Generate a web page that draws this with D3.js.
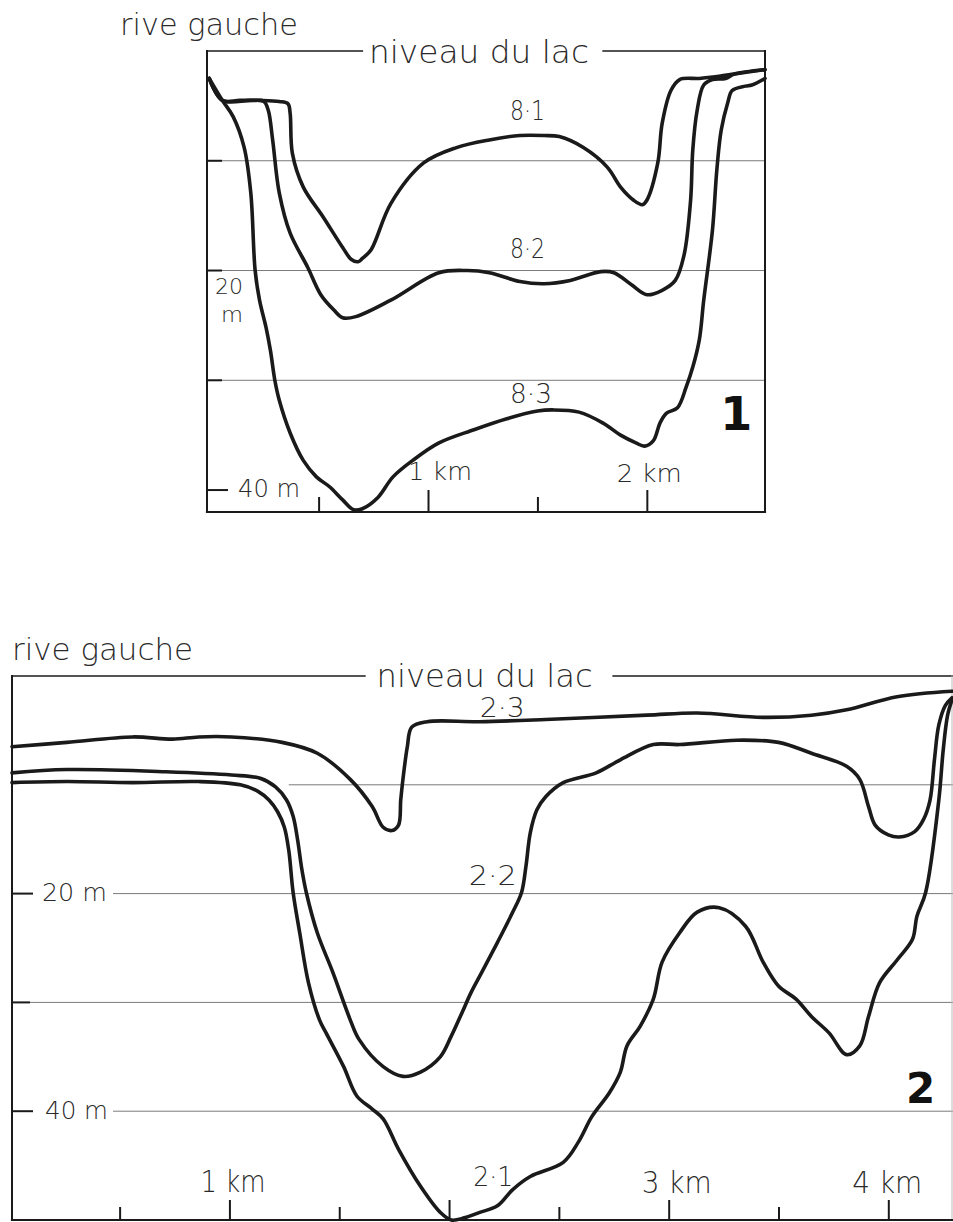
<!DOCTYPE html>
<html><head><meta charset="utf-8">
<script src="https://cdn.jsdelivr.net/npm/d3@7"></script>
<style>
body{margin:0;background:#fff}
svg{display:block}
text{font-family:"DejaVu Sans","Noto Sans",sans-serif;fill:#2a2a2a;font-weight:300}
</style>
</head><body>
<svg id="c" width="953" height="1222"></svg>
<script>
// ---------- DATA (distance km, depth m) ----------
// Profile 1 (panel "1")
const p1HalfTicks = [0.5, 1.5];
const p1KmTicks = [1, 2];
const p1Grid = [10, 20, 30];
const p1LeftTicks = [10, 20, 30, 40];
const profile81 = [[0,2.5],[0.06,4.5],[0.14,4.5],[0.24,4.5],[0.32,4.6],[0.36,4.8],[0.37,5.7],[0.38,9.3],[0.43,12.4],[0.52,15.1],[0.61,17.9],[0.65,19.0],[0.68,19.2],[0.70,18.9],[0.74,18.1],[0.83,13.9],[0.98,10.2],[1.13,8.8],[1.28,8.1],[1.42,7.7],[1.53,7.7],[1.60,7.8],[1.71,8.8],[1.82,10.6],[1.88,12.4],[1.94,13.6],[1.98,14.0],[2.00,13.6],[2.05,10.2],[2.07,6.6],[2.11,3.6],[2.15,2.6],[2.24,2.5],[2.33,2.3],[2.40,2.1],[2.54,1.7]];
const profile82 = [[0,2.5],[0.06,4.5],[0.19,4.5],[0.25,4.6],[0.27,5.4],[0.29,8.1],[0.32,12.9],[0.37,16.6],[0.45,19.7],[0.51,22.2],[0.57,23.6],[0.61,24.3],[0.67,24.2],[0.83,22.7],[1.05,20.2],[1.18,20.0],[1.28,20.2],[1.42,21.0],[1.53,21.2],[1.65,20.9],[1.79,20.1],[1.85,20.2],[1.93,21.3],[2.00,22.2],[2.07,21.8],[2.13,20.9],[2.17,18.6],[2.20,13.6],[2.21,9.0],[2.23,5.4],[2.26,3.1],[2.30,2.6],[2.36,2.5],[2.40,2.1],[2.54,1.7]];
const profile83 = [[0,2.5],[0.06,4.5],[0.11,6.0],[0.16,8.8],[0.19,12.9],[0.21,20.0],[0.23,22.7],[0.26,25.2],[0.28,27.3],[0.30,30.0],[0.32,31.8],[0.37,34.8],[0.43,37.3],[0.49,38.8],[0.55,39.7],[0.61,40.9],[0.66,41.8],[0.70,41.7],[0.77,40.7],[0.84,38.8],[0.93,37.3],[1.05,35.7],[1.21,34.5],[1.36,33.5],[1.50,32.8],[1.57,32.7],[1.69,32.9],[1.80,33.9],[1.88,35.0],[1.95,35.7],[1.99,36.0],[2.03,35.5],[2.06,33.9],[2.09,33.0],[2.14,32.5],[2.18,30.6],[2.21,28.8],[2.24,26.3],[2.26,22.7],[2.30,16.3],[2.32,10.8],[2.34,7.2],[2.37,4.7],[2.39,3.6],[2.45,3.2],[2.48,3.1],[2.54,2.5]];

// Profile 2 (panel "2")
const p2HalfTicks = [0.5, 1.5, 2.5, 3.5];
const p2KmTicks = [1, 2, 3, 4];
const p2LeftTicks = [20, 30, 40];
const profile23 = [[0.01,6.5],[0.26,6.1],[0.56,5.6],[0.74,5.8],[0.86,5.6],[1.01,5.6],[1.24,6.1],[1.40,7.1],[1.55,9.5],[1.65,12.0],[1.70,13.9],[1.74,14.2],[1.77,13.7],[1.78,11.4],[1.79,9.5],[1.81,6.5],[1.83,4.7],[1.90,4.2],[2.14,4.2],[2.44,4.0],[2.90,3.6],[3.13,3.4],[3.43,3.8],[3.65,3.6],[3.81,3.1],[4.04,1.9],[4.29,1.4]];
const profile22 = [[0.01,8.9],[0.26,8.6],[0.71,8.8],[1.01,9.1],[1.14,9.4],[1.21,10.2],[1.26,11.4],[1.29,12.9],[1.31,15.0],[1.33,17.8],[1.35,19.9],[1.40,23.6],[1.47,27.2],[1.55,31.6],[1.59,33.4],[1.70,35.9],[1.79,36.8],[1.87,36.4],[1.96,35.0],[2.01,33.1],[2.06,30.9],[2.10,29.1],[2.15,27.2],[2.22,24.5],[2.29,21.7],[2.33,19.9],[2.35,17.5],[2.37,14.4],[2.40,12.3],[2.44,11.1],[2.52,9.8],[2.67,8.9],[2.78,7.7],[2.93,6.3],[3.05,6.3],[3.31,5.9],[3.50,6.1],[3.65,7.1],[3.81,8.3],[3.87,9.5],[3.91,12.0],[3.94,13.7],[4.00,14.6],[4.05,14.8],[4.12,14.3],[4.16,13.2],[4.19,11.4],[4.21,7.7],[4.23,4.5],[4.26,2.7],[4.29,2.0]];
const profile21 = [[0.01,9.8],[0.26,9.7],[0.56,9.8],[0.86,9.7],[1.05,10.0],[1.13,10.6],[1.18,11.4],[1.22,12.5],[1.25,13.9],[1.27,16.0],[1.29,19.9],[1.32,23.6],[1.36,28.2],[1.41,31.6],[1.44,32.8],[1.52,35.9],[1.58,38.6],[1.65,39.8],[1.70,40.7],[1.77,43.5],[1.87,46.9],[1.96,49.3],[2.01,50.0],[2.07,49.8],[2.14,49.3],[2.22,48.7],[2.29,47.2],[2.37,46.0],[2.52,44.7],[2.59,42.8],[2.65,40.5],[2.73,38.3],[2.78,36.4],[2.81,34.0],[2.87,32.2],[2.93,29.7],[2.97,26.3],[3.05,23.6],[3.13,21.7],[3.23,21.3],[3.35,23.0],[3.43,26.3],[3.50,28.5],[3.58,29.7],[3.65,31.3],[3.73,32.8],[3.81,34.8],[3.87,34.0],[3.91,31.3],[3.96,28.2],[4.04,26.1],[4.11,24.2],[4.13,22.1],[4.17,19.9],[4.23,11.4],[4.25,6.8],[4.27,3.6],[4.29,2.2]];

// ---------- DRAW ----------
const svg = d3.select("#c");
const INK = "#1a1a1a";
const GRID = "#7a7a7a";

function txt(g, s, x, y, size, len, opts = {}) {
  const t = g.append("text").attr("x", x).attr("y", y).attr("font-size", size).text(s);
  if (len) t.attr("textLength", len).attr("lengthAdjust", "spacingAndGlyphs");
  if (opts.anchor) t.attr("text-anchor", opts.anchor);
  if (opts.bold) t.style("font-weight", "bold").style("fill", "#111");
  return t;
}
function seg(g, x1, y1, x2, y2, w, c) {
  g.append("line").attr("x1", x1).attr("y1", y1).attr("x2", x2).attr("y2", y2)
    .attr("stroke", c || INK).attr("stroke-width", w || 2).attr("stroke-linecap", "square");
}
function curves(g, x, y, list) {
  const line = d3.line().x(d => x(d[0])).y(d => y(d[1])).curve(d3.curveCatmullRom.alpha(0.5));
  g.selectAll("path.prof").data(list).join("path").attr("class", "prof")
    .attr("d", d => line(d)).attr("fill", "none").attr("stroke", INK)
    .attr("stroke-width", 3.6).attr("stroke-linejoin", "round").attr("stroke-linecap", "round");
}

// ===== Panel 1 =====
{
  const g = svg.append("g");
  const x = d3.scaleLinear().domain([-0.01, 2.54]).range([207, 765]);
  const y = d3.scaleLinear().domain([0, 42]).range([51, 512]);
  const [x0, xr] = x.domain().map(x); const [y0, yb] = y.domain().map(y);

  g.selectAll("line.grid").data(p1Grid).join("line").attr("class", "grid")
    .attr("x1", x0).attr("x2", xr).attr("y1", d => y(d)).attr("y2", d => y(d))
    .attr("stroke", GRID).attr("stroke-width", 1);
  g.selectAll("line.lt").data(p1LeftTicks).join("line").attr("class", "lt")
    .attr("x1", x0).attr("x2", d => x0 + (d === 40 ? 21 : 15)).attr("y1", d => y(d)).attr("y2", d => y(d))
    .attr("stroke", INK).attr("stroke-width", 2);
  const axHalf = d3.axisBottom(x).tickValues(p1HalfTicks).tickSize(-15).tickFormat("");
  const axKm = d3.axisBottom(x).tickValues(p1KmTicks).tickSize(-22).tickFormat("");
  [axHalf, axKm].forEach(ax => {
    const a = g.append("g").attr("transform", `translate(0,${yb})`).call(ax);
    a.select(".domain").remove();
    a.selectAll("line").attr("stroke", INK).attr("stroke-width", 2);
  });
  seg(g, x0, y0, x(0.7), y0, 1.5);
  seg(g, x(1.8), y0, xr, y0, 1.5);
  seg(g, x0, y0, x0, yb, 2);
  seg(g, xr, y0, xr, yb, 2);
  seg(g, x0, yb, xr, yb, 2.2);

  curves(g, x, y, [profile81, profile82, profile83]);

  txt(g, "rive gauche", 120, 35, 31, 178);
  txt(g, "niveau du lac", x(0.73), 63, 32, 220);
  txt(g, "8·1", x(1.375), y(6.3), 26, 35);
  txt(g, "8·2", x(1.375), y(18.9), 26, 35);
  txt(g, "8·3", x(1.375), y(32.1), 26, 42);
  txt(g, "20", x0 + 22, y(22.1), 22, 28, {anchor: "middle"});
  txt(g, "m", x0 + 25, y(24.7), 22, 22, {anchor: "middle"});
  txt(g, "40 m", x0 + 31, y(40.6), 24, 62);
  txt(g, "1 km", x(1) - 20, y(39.1), 25, 64);
  txt(g, "2 km", x(2) - 30, y(39.3), 25, 65);
  txt(g, "1", x(2.335), y(34.5), 46, null, {bold: true});
}

// ===== Panel 2 =====
{
  const g = svg.append("g");
  const x = d3.scaleLinear().domain([0.01, 4.29]).range([12, 952]);
  const y = d3.scaleLinear().domain([0, 50]).range([676, 1220]);
  const [x0, xr] = x.domain().map(x); const [y0, yb] = y.domain().map(y);

  // grid lines (partial spans, as drawn): [depth, start km]
  const gridSpans = [[10, 1.27], [20, 0.47], [30, 0.09], [40, 0.47]];
  g.selectAll("line.grid").data(gridSpans).join("line").attr("class", "grid")
    .attr("x1", d => x(d[1])).attr("x2", 953).attr("y1", d => y(d[0])).attr("y2", d => y(d[0]))
    .attr("stroke", GRID).attr("stroke-width", 1);
  g.selectAll("line.lt").data(p2LeftTicks).join("line").attr("class", "lt")
    .attr("x1", x0).attr("x2", d => x0 + (d === 30 ? 18 : 21)).attr("y1", d => y(d)).attr("y2", d => y(d))
    .attr("stroke", INK).attr("stroke-width", 2);
  const axHalf = d3.axisBottom(x).tickValues(p2HalfTicks).tickSize(-13).tickFormat("");
  const axKm = d3.axisBottom(x).tickValues(p2KmTicks).tickSize(-20).tickFormat("");
  [axHalf, axKm].forEach(ax => {
    const a = g.append("g").attr("transform", `translate(0,${yb})`).call(ax);
    a.select(".domain").remove();
    a.selectAll("line").attr("stroke", INK).attr("stroke-width", 2);
  });
  seg(g, x0, y0, x(1.617), y0, 1.5);
  seg(g, x(2.747), y0, 953, y0, 1.5);
  seg(g, x0, y0, x0, yb, 2);
  seg(g, xr, y0, xr, yb, 1, "#bbb");
  seg(g, x0, yb, 953, yb, 2.2);

  curves(g, x, y, [profile23, profile22, profile21]);

  txt(g, "rive gauche", 12, 660, 31, 181);
  txt(g, "niveau du lac", x(1.67), 687, 32, 216);
  txt(g, "2·3", x(2.14), y(3.8), 26, 45);
  txt(g, "2·2", x(2.09), y(19.2), 26, 48);
  txt(g, "2·1", x(2.11), y(46.9), 26, 40);
  txt(g, "20 m", x0 + 30, y(20.7), 25, 65);
  txt(g, "40 m", x0 + 33, y(40.7), 25, 63);
  txt(g, "1 km", x(1) - 29, 1192, 31, 65);
  txt(g, "3 km", x(3) - 27, 1193, 31, 70);
  txt(g, "4 km", x(4) - 36, 1193, 31, 70);
  txt(g, "2", 906, 1103, 42, null, {bold: true});
}
</script>
</body></html>
